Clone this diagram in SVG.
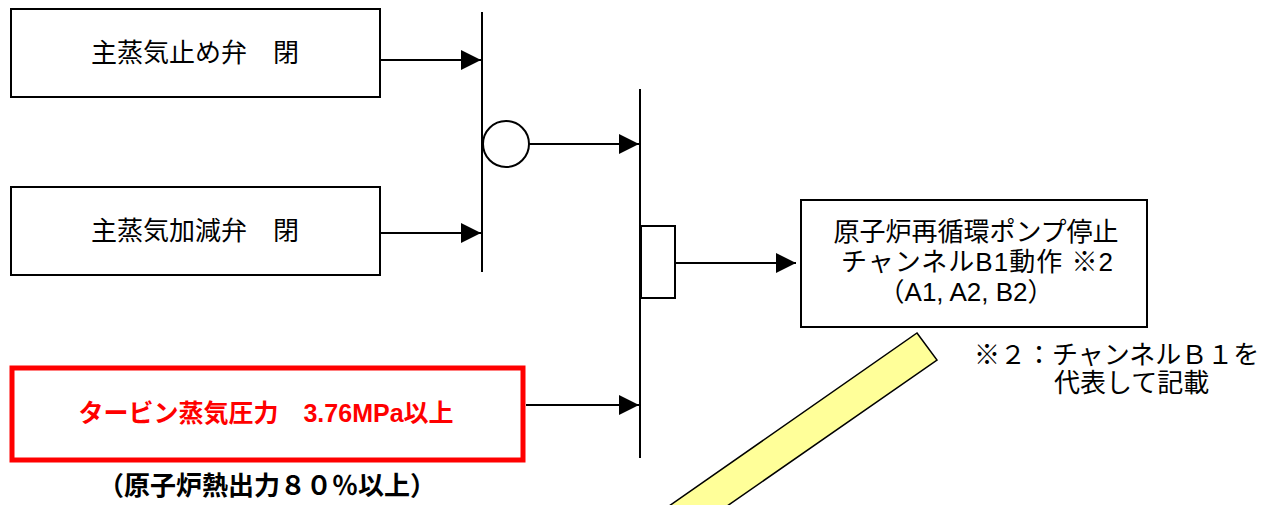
<svg xmlns="http://www.w3.org/2000/svg" width="1287" height="505" viewBox="0 0 1287 505">
<style>
.box{fill:#fff;stroke:#000;stroke-width:2}
.ln{stroke:#000;stroke-width:2;fill:none}
.t{font-family:"Liberation Sans","Noto Sans CJK JP",sans-serif;font-size:26px;fill:#000}
.c{text-anchor:middle}
</style>
<defs>
<marker id="ah" viewBox="0 0 10 10" refX="10" refY="5" markerWidth="10" markerHeight="10" markerUnits="strokeWidth" orient="auto">
<path d="M0,0 L10,5 L0,10 z" fill="#000"/>
</marker>
</defs>
<rect width="1287" height="505" fill="#fff"/>
<g id="n-msv-stop">
<rect class="box" x="11" y="9" width="369" height="88"/>
<text class="t c" x="195" y="62">主蒸気止め弁　閉</text>
</g>
<g id="n-msv-ctrl">
<rect class="box" x="11" y="187" width="369" height="88"/>
<text class="t c" x="195" y="240">主蒸気加減弁　閉</text>
</g>
<g id="n-turbine">
<rect x="12" y="368" width="511" height="92" fill="#fff" stroke="#ff0000" stroke-width="5"/>
<text class="t c" x="266" y="422" style="font-weight:bold;fill:#ff0000;font-size:25px">タービン蒸気圧力　3.76MPa以上</text>
</g>
<g id="n-caption">
<text class="t c" x="267" y="495" style="font-weight:bold">（原子炉熱出力８０％以上）</text>
</g>
<g id="n-or">
<line class="ln" x1="482" y1="12" x2="482" y2="272"/>
<ellipse cx="506" cy="144" rx="23" ry="23" fill="#fff" stroke="#000" stroke-width="2"/>
</g>
<g id="n-and">
<line class="ln" x1="640" y1="89" x2="640" y2="458"/>
<rect x="641" y="226" width="34" height="72" fill="#fff" stroke="#000" stroke-width="2"/>
</g>
<g id="n-output">
<rect class="box" x="801" y="200" width="346" height="127"/>
<text class="t c" x="976" y="241">原子炉再循環ポンプ停止</text>
<text class="t c" x="977" y="271" textLength="272" lengthAdjust="spacing">チャンネルB1動作 ※2</text>
<text class="t c" x="966" y="301">（A1, A2, B2）</text>
</g>
<g id="n-note">
<text class="t" x="974" y="364">※２：チャンネルＢ１を</text>
<text class="t" x="1054" y="392">代表して記載</text>
</g>
<g id="n-bar">
<polygon points="917,333 937,360 707,520 649,520" fill="#ffff99" stroke="#000" stroke-width="1.5"/>
</g>
<g id="connectors">
<line class="ln" x1="381" y1="60" x2="481" y2="60" marker-end="url(#ah)"/>
<line class="ln" x1="381" y1="233" x2="481" y2="233" marker-end="url(#ah)"/>
<line class="ln" x1="529" y1="144" x2="639" y2="144" marker-end="url(#ah)"/>
<line class="ln" x1="526" y1="405" x2="639" y2="405" marker-end="url(#ah)"/>
<line class="ln" x1="676" y1="263" x2="796" y2="263" marker-end="url(#ah)"/>
</g>
</svg>
